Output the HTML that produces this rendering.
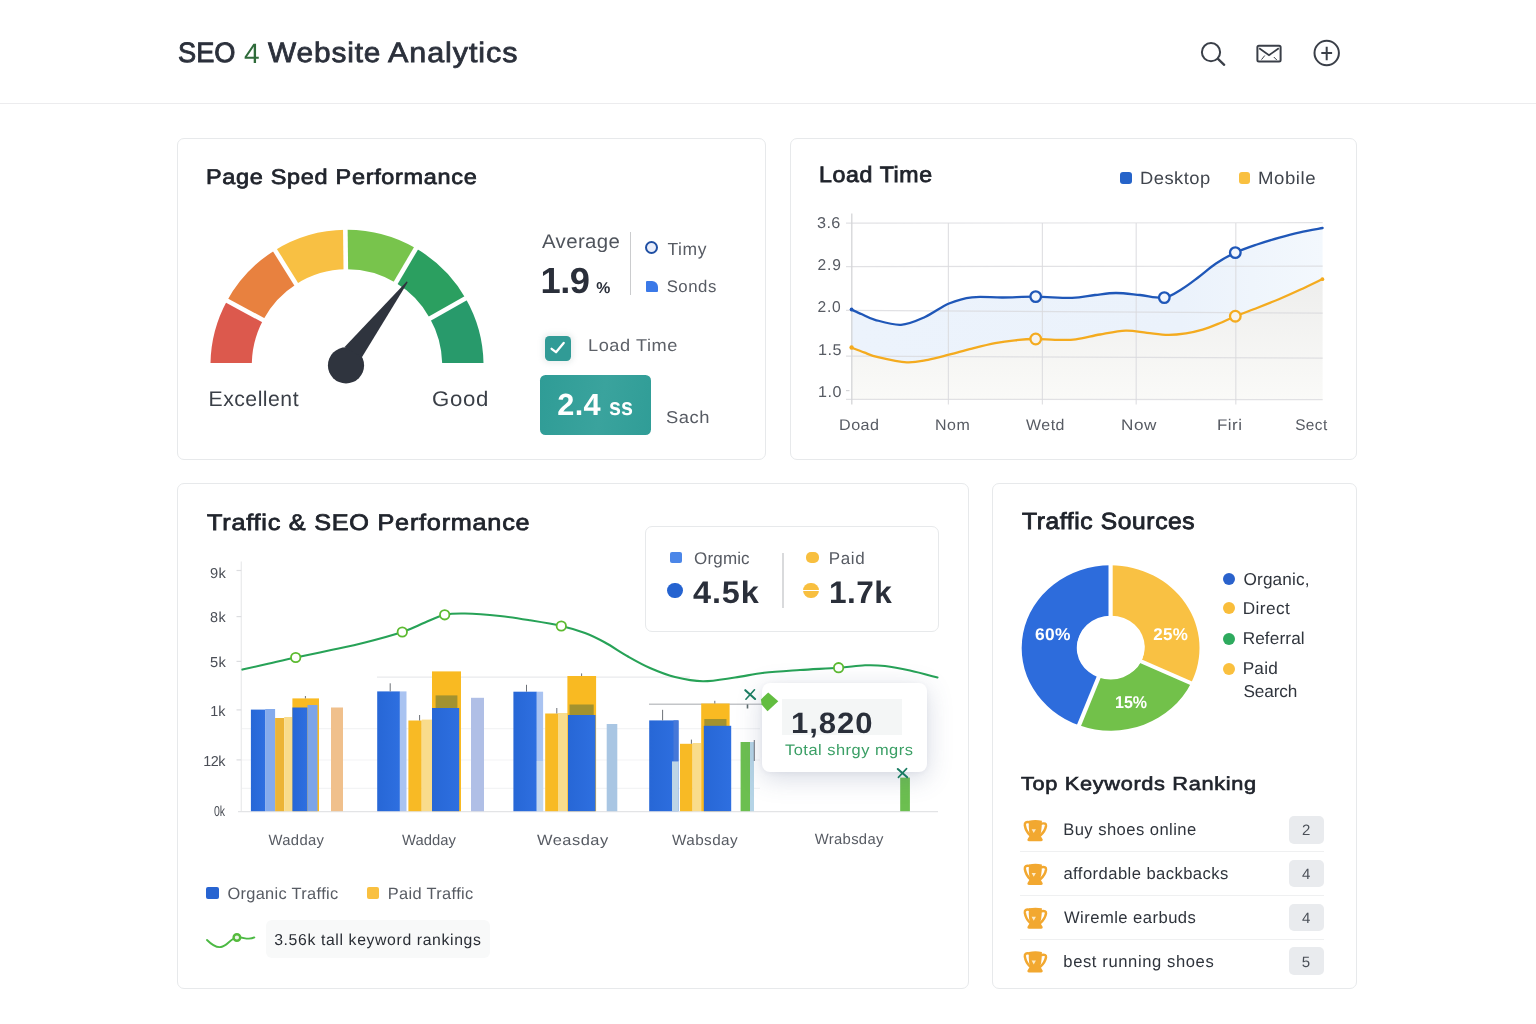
<!DOCTYPE html>
<html lang="en">
<head>
<meta charset="utf-8">
<title>SEO 4 Website Analytics</title>
<style>
*{box-sizing:border-box;margin:0;padding:0}
html,body{width:1536px;height:1024px;background:#fff;overflow:hidden}
body{position:relative;font-family:"Liberation Sans",Arial,sans-serif;color:#20242c;text-rendering:geometricPrecision}
.hdr{position:absolute;left:0;top:0;width:1536px;height:103.6px;background:#fff;border-bottom:1.5px solid #ececee}
.card{position:absolute;background:#fff;border:1.3px solid #e7e9eb;border-radius:7px}
.abs{position:absolute}
.t{position:absolute;white-space:nowrap;line-height:1;transform-origin:0 0}
.t b{font-weight:400;-webkit-text-stroke:0.9px currentColor}
svg.g{position:absolute;left:0;top:0;width:1536px;height:1024px;overflow:visible}
.sq{position:absolute;border-radius:3px}
.dot{position:absolute;border-radius:50%}
.badge{position:absolute;left:1289.3px;width:34.4px;height:27.6px;background:#e9ebee;border-radius:5px}
.row-div{position:absolute;left:1020px;width:304px;height:1.4px;background:#eff0f1}
</style>
</head>
<body>
<header class="hdr"></header>
<section class="card" style="left:177px;top:138px;width:589px;height:321.5px"></section>
<section class="card" style="left:789.8px;top:138px;width:567.4px;height:321.5px"></section>
<section class="card" style="left:177px;top:483px;width:792px;height:506px"></section>
<section class="card" style="left:992px;top:483px;width:365.2px;height:506px"></section>
<div class="abs" style="left:629.5px;top:232.2px;width:1.6px;height:63.3px;background:#cbccce"></div>
<div class="dot" style="left:645px;top:240.7px;width:13.2px;height:13.2px;border:2.1px solid #1f4fa3;background:#e9eefb"></div>
<div class="abs" style="left:645.8px;top:280.6px;width:12.5px;height:11px;background:#3b79e8;border-radius:1px 6px 1px 1px"></div>
<div class="abs" style="left:545.3px;top:335.6px;width:25.5px;height:25.4px;background:#319b96;border-radius:4.5px;box-shadow:0 0 5px 3px rgba(120,150,150,.13)"></div>
<div class="abs" style="left:539.8px;top:375px;width:111.2px;height:59.8px;border-radius:5.5px;background:linear-gradient(100deg,#2f9c96,#3aa39d 55%,#309d97)"></div>
<div class="sq" style="left:1120.2px;top:172px;width:12.1px;height:11.9px;background:#2563c9"></div>
<div class="sq" style="left:1238.7px;top:172px;width:11.8px;height:11.9px;background:#f9c040"></div>
<div class="abs" style="left:645.3px;top:526px;width:294px;height:106px;border:1.3px solid #e7e9eb;border-radius:7px;background:#fff"></div>
<div class="sq" style="left:670.2px;top:551.9px;width:12px;height:11.2px;background:#4b86e8;border-radius:2px"></div>
<div class="dot" style="left:667px;top:582.7px;width:15.8px;height:15.8px;background:#2563d0"></div>
<div class="abs" style="left:782.3px;top:553px;width:1.4px;height:54.7px;background:#d9dadc"></div>
<div class="abs" style="left:805.7px;top:551.5px;width:12.9px;height:11.6px;background:#f8bf3f;border-radius:5px"></div>
<div class="dot" style="left:803.3px;top:582.8px;width:15.6px;height:15.6px;background:linear-gradient(#f8bf3f 0,#f8bf3f 44%,#fff 44%,#fff 56%,#f8bf3f 56%)"></div>
<div class="sq" style="left:206.4px;top:886.8px;width:12.2px;height:12.2px;background:#2764d1;border-radius:2px"></div>
<div class="sq" style="left:366.5px;top:886.8px;width:12.2px;height:12.2px;background:#f9c040;border-radius:2px"></div>
<div class="abs" style="left:265.5px;top:919.9px;width:224.7px;height:38.5px;background:#f8f9f9;border-radius:6px"></div>
<div class="dot" style="left:1222.6px;top:572.9px;width:12.2px;height:12.2px;background:#2a62cc"></div>
<div class="dot" style="left:1222.6px;top:602.3px;width:12.2px;height:12.2px;background:#f9bd3a"></div>
<div class="dot" style="left:1222.6px;top:632.7px;width:12.2px;height:12.2px;background:#2eaa5e"></div>
<div class="dot" style="left:1222.6px;top:662.6px;width:12.2px;height:12.2px;background:#fac03e"></div>
<div class="badge" style="top:816px"></div>
<div class="badge" style="top:859.7px"></div>
<div class="badge" style="top:903.6px"></div>
<div class="badge" style="top:947.3px"></div>
<div class="row-div" style="top:851px"></div>
<div class="row-div" style="top:894.9px"></div>
<div class="row-div" style="top:938.6px"></div>
<svg class="g" viewBox="0 0 1536 1024">
<defs>
<clipPath id="gclip"><rect x="200" y="220" width="300" height="142.9"/></clipPath>
<linearGradient id="gBlueFill" x1="0" y1="0" x2="1" y2="0"><stop offset="0" stop-color="#ecf3fc"/><stop offset=".7" stop-color="#ebf2fb"/><stop offset="1" stop-color="#f3f8fd"/></linearGradient>
<linearGradient id="gGrayFill" x1="0" y1="280" x2="0" y2="400" gradientUnits="userSpaceOnUse"><stop offset="0" stop-color="#eeeeed"/><stop offset="1" stop-color="#fafaf8"/></linearGradient>
<linearGradient id="gBar" x1="0" y1="0" x2="1" y2="0"><stop offset="0" stop-color="#2767d6"/><stop offset="1" stop-color="#2e6fe0"/></linearGradient>
</defs>
<circle cx="1211" cy="52.2" r="9.1" fill="none" stroke="#3a3f48" stroke-width="2"/>
<line x1="1218" y1="58.8" x2="1224.2" y2="64.8" stroke="#3a3f48" stroke-width="2.3" stroke-linecap="round"/>
<rect x="1257.4" y="45.7" width="23.2" height="15.8" rx="1.5" fill="none" stroke="#3a3f48" stroke-width="2"/>
<path d="M1259.2,48.2 L1269,55.2 L1278.8,48.2" fill="none" stroke="#3a3f48" stroke-width="1.8"/>
<path d="M1264.8,55.5 L1261.5,59.6 M1273.8,57 L1276.8,60" fill="none" stroke="#3a3f48" stroke-width="1"/>
<circle cx="1326.7" cy="53" r="12.2" fill="none" stroke="#3a3f48" stroke-width="2"/>
<path d="M1321.3,53 H1332.1 M1326.7,46.7 V60.3" fill="none" stroke="#3a3f48" stroke-width="2"/>
<g clip-path="url(#gclip)">
<path d="M210.58,370.24 A136.5,135.7 0 0 1 226.93,300.96 L263.26,319.74 A95.2,96.2 0 0 0 251.86,368.86 Z" fill="#dc594d"/>
<path d="M226.93,300.96 A136.5,135.7 0 0 1 274.67,250.42 L296.55,283.92 A95.2,96.2 0 0 0 263.26,319.74 Z" fill="#e8813f"/>
<path d="M274.67,250.42 A136.5,135.7 0 0 1 345.33,229.81 L345.84,269.31 A95.2,96.2 0 0 0 296.55,283.92 Z" fill="#f8c043"/>
<path d="M345.33,229.81 A136.5,135.7 0 0 1 416.28,248.58 L395.32,282.61 A95.2,96.2 0 0 0 345.84,269.31 Z" fill="#78c44c"/>
<path d="M416.28,248.58 A136.5,135.7 0 0 1 465.8,298.68 L429.86,318.13 A95.2,96.2 0 0 0 395.32,282.61 Z" fill="#2b9f60"/>
<path d="M465.8,298.68 A136.5,135.7 0 0 1 483.42,370.24 L442.14,368.86 A95.2,96.2 0 0 0 429.86,318.13 Z" fill="#289a6b"/>
<line x1="268.54" y1="323.07" x2="221.65" y2="297.72" stroke="#fff" stroke-width="4.6"/>
<line x1="299.73" y1="289.85" x2="271.49" y2="244.65" stroke="#fff" stroke-width="4.6"/>
<line x1="345.91" y1="276.31" x2="345.26" y2="223.01" stroke="#fff" stroke-width="4.6"/>
<line x1="392.27" y1="288.64" x2="419.32" y2="242.72" stroke="#fff" stroke-width="4.6"/>
<line x1="424.64" y1="321.58" x2="471.03" y2="295.33" stroke="#fff" stroke-width="4.6"/>
</g>
<circle cx="346" cy="365.4" r="18.1" fill="#2f343e"/>
<path d="M406.9,281.2 L407.6,282.4 L361.9,357.2 L344.6,347.0 Z" fill="#2f343e"/>
<path d="M851,309.4 C852.83,310.22 858,312.57 862,314.3 C866,316.03 868.5,318.05 875,319.8 C881.5,321.55 892.67,325.27 901,324.8 C909.33,324.33 917,320.55 925,317 C933,313.45 941.17,306.78 949,303.5 C956.83,300.22 963.03,298.3 972,297.3 C980.97,296.3 992.22,297.6 1002.8,297.5 C1013.38,297.4 1023.97,296.63 1035.5,296.7 C1047.03,296.77 1062.08,298.18 1072,297.9 C1081.92,297.62 1087.67,295.82 1095,295 C1102.33,294.18 1108.5,293 1116,293 C1123.5,293 1131.97,294.23 1140,295 C1148.03,295.77 1157.2,298.6 1164.2,297.6 C1171.2,296.6 1176.25,292.43 1182,289 C1187.75,285.57 1193.03,281.25 1198.7,277 C1204.37,272.75 1209.92,267.55 1216,263.5 C1222.08,259.45 1228.37,255.87 1235.2,252.7 C1242.03,249.53 1249.63,247.02 1257,244.5 C1264.37,241.98 1272.23,239.63 1279.4,237.6 C1286.57,235.57 1292.8,233.9 1300,232.3 C1307.2,230.7 1318.83,228.72 1322.6,228 L1322.6,279  C1318.83,280.8 1307.2,286.47 1300,289.8 C1292.8,293.13 1286.57,295.97 1279.4,299 C1272.23,302.03 1264.37,305.12 1257,308 C1249.63,310.88 1241.53,313.72 1235.2,316.3 C1228.87,318.88 1224.43,321.28 1219,323.5 C1213.57,325.72 1208.1,327.97 1202.6,329.6 C1197.1,331.23 1191.77,332.43 1186,333.3 C1180.23,334.17 1174.5,334.88 1168,334.8 C1161.5,334.72 1154.05,333.5 1147,332.8 C1139.95,332.1 1133.53,330.32 1125.7,330.6 C1117.87,330.88 1108.32,333.03 1100,334.5 C1091.68,335.97 1083.3,338.52 1075.8,339.4 C1068.3,340.28 1061.72,339.87 1055,339.8 C1048.28,339.73 1042.17,338.92 1035.5,339 C1028.83,339.08 1021.73,339.6 1015,340.3 C1008.27,341 1002.27,341.82 995.1,343.2 C987.93,344.58 979.68,346.68 972,348.6 C964.32,350.52 956.33,352.83 949,354.7 C941.67,356.57 935.03,358.52 928,359.8 C920.97,361.08 915.13,362.83 906.8,362.4 C898.47,361.97 885.13,358.87 878,357.2 C870.87,355.53 868.5,354.03 864,352.4 C859.5,350.77 853.17,348.23 851,347.4 Z" fill="url(#gBlueFill)"/>
<path d="M851,347.4 C853.17,348.23 859.5,350.77 864,352.4 C868.5,354.03 870.87,355.53 878,357.2 C885.13,358.87 898.47,361.97 906.8,362.4 C915.13,362.83 920.97,361.08 928,359.8 C935.03,358.52 941.67,356.57 949,354.7 C956.33,352.83 964.32,350.52 972,348.6 C979.68,346.68 987.93,344.58 995.1,343.2 C1002.27,341.82 1008.27,341 1015,340.3 C1021.73,339.6 1028.83,339.08 1035.5,339 C1042.17,338.92 1048.28,339.73 1055,339.8 C1061.72,339.87 1068.3,340.28 1075.8,339.4 C1083.3,338.52 1091.68,335.97 1100,334.5 C1108.32,333.03 1117.87,330.88 1125.7,330.6 C1133.53,330.32 1139.95,332.1 1147,332.8 C1154.05,333.5 1161.5,334.72 1168,334.8 C1174.5,334.88 1180.23,334.17 1186,333.3 C1191.77,332.43 1197.1,331.23 1202.6,329.6 C1208.1,327.97 1213.57,325.72 1219,323.5 C1224.43,321.28 1228.87,318.88 1235.2,316.3 C1241.53,313.72 1249.63,310.88 1257,308 C1264.37,305.12 1272.23,302.03 1279.4,299 C1286.57,295.97 1292.8,293.13 1300,289.8 C1307.2,286.47 1318.83,280.8 1322.6,279 L1322.6,399.3 L851.8,399.3 Z" fill="url(#gGrayFill)"/>
<line x1="846" y1="223.2" x2="1322.7" y2="222.7" stroke="#d9dadd" stroke-opacity=".8" stroke-width="1.2"/>
<line x1="846" y1="266.6" x2="1322.7" y2="266.2" stroke="#d9dadd" stroke-opacity=".8" stroke-width="1.2"/>
<line x1="846" y1="310.4" x2="1322.7" y2="313.2" stroke="#d9dadd" stroke-opacity=".8" stroke-width="1.2"/>
<line x1="846" y1="356.2" x2="1322.7" y2="358.1" stroke="#d9dadd" stroke-opacity=".8" stroke-width="1.2"/>
<line x1="846" y1="399.4" x2="1322.7" y2="399.6" stroke="#d9dadd" stroke-opacity=".8" stroke-width="1.2"/>
<line x1="851.8" y1="213.5" x2="851.8" y2="404.5" stroke="#d4d5d8" stroke-width="1.3"/>
<line x1="948.4" y1="223" x2="948.4" y2="404.5" stroke="#d9dadd" stroke-opacity=".8" stroke-width="1.2"/>
<line x1="1042.4" y1="223" x2="1042.4" y2="404.5" stroke="#d9dadd" stroke-opacity=".8" stroke-width="1.2"/>
<line x1="1136.2" y1="223" x2="1136.2" y2="404.5" stroke="#d9dadd" stroke-opacity=".8" stroke-width="1.2"/>
<line x1="1235.8" y1="223" x2="1235.8" y2="404.5" stroke="#d9dadd" stroke-opacity=".8" stroke-width="1.2"/>
<path d="M851,347.4 C853.17,348.23 859.5,350.77 864,352.4 C868.5,354.03 870.87,355.53 878,357.2 C885.13,358.87 898.47,361.97 906.8,362.4 C915.13,362.83 920.97,361.08 928,359.8 C935.03,358.52 941.67,356.57 949,354.7 C956.33,352.83 964.32,350.52 972,348.6 C979.68,346.68 987.93,344.58 995.1,343.2 C1002.27,341.82 1008.27,341 1015,340.3 C1021.73,339.6 1028.83,339.08 1035.5,339 C1042.17,338.92 1048.28,339.73 1055,339.8 C1061.72,339.87 1068.3,340.28 1075.8,339.4 C1083.3,338.52 1091.68,335.97 1100,334.5 C1108.32,333.03 1117.87,330.88 1125.7,330.6 C1133.53,330.32 1139.95,332.1 1147,332.8 C1154.05,333.5 1161.5,334.72 1168,334.8 C1174.5,334.88 1180.23,334.17 1186,333.3 C1191.77,332.43 1197.1,331.23 1202.6,329.6 C1208.1,327.97 1213.57,325.72 1219,323.5 C1224.43,321.28 1228.87,318.88 1235.2,316.3 C1241.53,313.72 1249.63,310.88 1257,308 C1264.37,305.12 1272.23,302.03 1279.4,299 C1286.57,295.97 1292.8,293.13 1300,289.8 C1307.2,286.47 1318.83,280.8 1322.6,279" fill="none" stroke="#f4ab1f" stroke-width="2.3" stroke-linecap="round"/>
<path d="M851,309.4 C852.83,310.22 858,312.57 862,314.3 C866,316.03 868.5,318.05 875,319.8 C881.5,321.55 892.67,325.27 901,324.8 C909.33,324.33 917,320.55 925,317 C933,313.45 941.17,306.78 949,303.5 C956.83,300.22 963.03,298.3 972,297.3 C980.97,296.3 992.22,297.6 1002.8,297.5 C1013.38,297.4 1023.97,296.63 1035.5,296.7 C1047.03,296.77 1062.08,298.18 1072,297.9 C1081.92,297.62 1087.67,295.82 1095,295 C1102.33,294.18 1108.5,293 1116,293 C1123.5,293 1131.97,294.23 1140,295 C1148.03,295.77 1157.2,298.6 1164.2,297.6 C1171.2,296.6 1176.25,292.43 1182,289 C1187.75,285.57 1193.03,281.25 1198.7,277 C1204.37,272.75 1209.92,267.55 1216,263.5 C1222.08,259.45 1228.37,255.87 1235.2,252.7 C1242.03,249.53 1249.63,247.02 1257,244.5 C1264.37,241.98 1272.23,239.63 1279.4,237.6 C1286.57,235.57 1292.8,233.9 1300,232.3 C1307.2,230.7 1318.83,228.72 1322.6,228" fill="none" stroke="#1f57b8" stroke-width="2.3" stroke-linecap="round"/>
<line x1="846" y1="390.6" x2="849.5" y2="390.6" stroke="#d4d5d8" stroke-width="1.2"/>
<circle cx="851.6" cy="309.5" r="1.9" fill="#1f57b8"/><circle cx="851.6" cy="347.5" r="2.2" fill="#f4ab1f"/><circle cx="1322.4" cy="279.2" r="1.9" fill="#f4ab1f"/>
<circle cx="1035.7" cy="296.6" r="5.3" fill="#f2f6fd" stroke="#1f57b8" stroke-width="2.3"/>
<circle cx="1164.3" cy="297.6" r="5.3" fill="#f2f6fd" stroke="#1f57b8" stroke-width="2.3"/>
<circle cx="1235.3" cy="252.6" r="5.3" fill="#f2f6fd" stroke="#1f57b8" stroke-width="2.3"/>
<circle cx="1035.7" cy="339" r="5.3" fill="#f6f3ee" stroke="#f4ab1f" stroke-width="2.3"/>
<circle cx="1235.3" cy="316.2" r="5.3" fill="#f6f3ee" stroke="#f4ab1f" stroke-width="2.3"/>
<line x1="377" y1="677.2" x2="690" y2="677.2" stroke="#e9eaec" stroke-width="1.2"/>
<line x1="649" y1="704.2" x2="763" y2="704.2" stroke="#c3c5c8" stroke-width="1.4"/>
<line x1="242" y1="728.7" x2="760" y2="728.7" stroke="#f3f4f5" stroke-width="1.2"/>
<line x1="242" y1="760" x2="760" y2="760" stroke="#f3f4f5" stroke-width="1.2"/>
<line x1="242" y1="788.3" x2="760" y2="788.3" stroke="#f3f4f5" stroke-width="1.2"/>
<line x1="241.3" y1="561.4" x2="241.3" y2="811.5" stroke="#eaebed" stroke-width="1.3"/>
<line x1="236.5" y1="570.5" x2="241.3" y2="570.5" stroke="#dcdde0" stroke-width="1.2"/>
<line x1="236.5" y1="616.6" x2="241.3" y2="616.6" stroke="#dcdde0" stroke-width="1.2"/>
<line x1="236.5" y1="661.4" x2="241.3" y2="661.4" stroke="#dcdde0" stroke-width="1.2"/>
<line x1="236.5" y1="709.9" x2="241.3" y2="709.9" stroke="#dcdde0" stroke-width="1.2"/>
<line x1="236.5" y1="759.9" x2="241.3" y2="759.9" stroke="#dcdde0" stroke-width="1.2"/>
<line x1="238" y1="811.6" x2="938" y2="811.6" stroke="#e3e4e6" stroke-width="1.3"/>
<rect x="250.9" y="709.6" width="14.2" height="101.6" fill="url(#gBar)"/>
<rect x="265.1" y="709" width="10" height="102.2" fill="#85abec"/>
<rect x="275.1" y="718" width="9.1" height="93.2" fill="#ecb436"/>
<rect x="284.2" y="717" width="8.2" height="94.2" fill="#f9dc8c"/>
<rect x="292.4" y="698.4" width="26.6" height="112.8" fill="#f9ba22"/>
<rect x="292.4" y="707.5" width="15.1" height="103.7" fill="url(#gBar)"/>
<rect x="307.5" y="705" width="10" height="106.2" fill="#7ca4e8"/>
<rect x="331" y="707.5" width="12" height="103.7" fill="#f0c08c"/>
<rect x="377.2" y="691.4" width="22.7" height="119.8" fill="url(#gBar)"/>
<rect x="399.9" y="691.4" width="6.6" height="119.8" fill="#a9c3f1"/>
<rect x="408.4" y="720.5" width="13.3" height="90.7" fill="#f8ba25"/>
<rect x="421.7" y="719.6" width="10.3" height="91.6" fill="#f9dc8c"/>
<rect x="432" y="671.4" width="29" height="139.8" fill="#f9ba22"/>
<rect x="435.6" y="695.4" width="21.8" height="13.1" fill="#a3922f"/>
<rect x="432" y="708" width="27.2" height="103.2" fill="url(#gBar)"/>
<rect x="471" y="697.8" width="13" height="113.4" fill="#b0bfe6"/>
<rect x="513.4" y="691.7" width="23.4" height="119.5" fill="url(#gBar)"/>
<rect x="536.8" y="691.7" width="6.3" height="119.5" fill="#a9c3f1"/>
<rect x="536.8" y="761" width="6.3" height="50.2" fill="#c3d7ee"/>
<rect x="545.2" y="713.5" width="12.8" height="97.7" fill="#f8ba25"/>
<rect x="558" y="713" width="10" height="98.2" fill="#f9dc8c"/>
<rect x="567.4" y="676" width="28.7" height="135.2" fill="#f9ba22"/>
<rect x="569.5" y="704.5" width="24.2" height="11" fill="#a3922f"/>
<rect x="568" y="715" width="27.5" height="96.2" fill="url(#gBar)"/>
<rect x="606.7" y="724" width="10.6" height="87.2" fill="#a9c6e3"/>
<rect x="649.2" y="720.4" width="29.3" height="90.8" fill="url(#gBar)"/>
<rect x="673.5" y="720.4" width="5" height="41" fill="#4678d8"/>
<rect x="672" y="761.4" width="6.5" height="49.8" fill="#bdd5e6"/>
<rect x="680" y="743.8" width="12.6" height="67.4" fill="#f8ba25"/>
<rect x="692.6" y="743" width="8.6" height="68.2" fill="#f9dc8c"/>
<rect x="701.2" y="703.5" width="28.4" height="107.7" fill="#f9ba22"/>
<rect x="704.3" y="719" width="22.2" height="7.3" fill="#a3922f"/>
<rect x="703.8" y="725.8" width="27.4" height="85.4" fill="url(#gBar)"/>
<rect x="740.6" y="742" width="9.4" height="69.2" fill="#6cbf50"/>
<rect x="750" y="742" width="4" height="69.2" fill="#b5d4e6"/>
<rect x="900.2" y="777.6" width="9.7" height="33.6" fill="#6cbf50"/>
<line x1="390.2" y1="683.3" x2="390.2" y2="691.4" stroke="#6d7178" stroke-width="1"/>
<line x1="526.5" y1="684.8" x2="526.5" y2="691.7" stroke="#6d7178" stroke-width="1"/>
<line x1="662.6" y1="709.8" x2="662.6" y2="720.4" stroke="#6d7178" stroke-width="1"/>
<line x1="305.4" y1="696" x2="305.4" y2="698.4" stroke="#6d7178" stroke-width="1"/>
<line x1="419.6" y1="715" x2="419.6" y2="720.5" stroke="#6d7178" stroke-width="1"/>
<line x1="556.8" y1="708" x2="556.8" y2="713.5" stroke="#6d7178" stroke-width="1"/>
<line x1="581.6" y1="673.4" x2="581.6" y2="676" stroke="#6d7178" stroke-width="1"/>
<line x1="714.8" y1="700.8" x2="714.8" y2="703.5" stroke="#6d7178" stroke-width="1"/>
<line x1="691.4" y1="739.6" x2="691.4" y2="743.8" stroke="#6d7178" stroke-width="1"/>
<line x1="754.3" y1="740" x2="754.3" y2="761" stroke="#6d7178" stroke-width="1"/>
<path d="M242.4,669.6 C246.67,668.63 259.12,665.82 268,663.8 C276.88,661.78 285.37,659.75 295.7,657.5 C306.03,655.25 318.45,652.8 330,650.3 C341.55,647.8 352.95,645.55 365,642.5 C377.05,639.45 392.3,635.33 402.3,632 C412.3,628.67 417.93,625.37 425,622.5 C432.07,619.63 438.03,616.3 444.7,614.8 C451.37,613.3 455.78,613.3 465,613.5 C474.22,613.7 489.17,614.87 500,616 C510.83,617.13 519.78,618.63 530,620.3 C540.22,621.97 552.13,623.88 561.3,626 C570.47,628.12 577.72,630.25 585,633 C592.28,635.75 597.83,638.58 605,642.5 C612.17,646.42 620.5,652.25 628,656.5 C635.5,660.75 642.17,664.58 650,668 C657.83,671.42 666.17,674.8 675,677 C683.83,679.2 693,681.12 703,681.2 C713,681.28 724.83,678.9 735,677.5 C745.17,676.1 753.17,674.05 764,672.8 C774.83,671.55 787.57,670.85 800,670 C812.43,669.15 827.77,668.48 838.6,667.7 C849.43,666.92 857.27,665.58 865,665.3 C872.73,665.02 877.5,665.13 885,666 C892.5,666.87 901.25,668.58 910,670.5 C918.75,672.42 932.92,676.33 937.5,677.5" fill="none" stroke="#27a257" stroke-width="2.1" stroke-linecap="round"/>
<circle cx="295.7" cy="657.5" r="4.7" fill="#fff" stroke="#5cba30" stroke-width="1.8"/>
<circle cx="402.3" cy="632" r="4.7" fill="#fff" stroke="#5cba30" stroke-width="1.8"/>
<circle cx="444.7" cy="614.8" r="4.7" fill="#fff" stroke="#5cba30" stroke-width="1.8"/>
<circle cx="561.3" cy="626" r="4.7" fill="#fff" stroke="#5cba30" stroke-width="1.8"/>
<circle cx="838.6" cy="667.7" r="4.7" fill="#fff" stroke="#5cba30" stroke-width="1.8"/>
<g transform="translate(1110.6,648) scale(1,0.93)">
<path d="M0,-88.9 A88.9,88.9 0 0 1 80.44,37.85 L30.58,14.39 A33.8,33.8 0 0 0 0,-33.8 Z" fill="#f9c143"/>
<path d="M80.44,37.85 A88.9,88.9 0 0 1 -31.57,83.11 L-12,31.6 A33.8,33.8 0 0 0 30.58,14.39 Z" fill="#72c14a"/>
<path d="M-31.57,83.11 A88.9,88.9 0 0 1 -0,-88.9 L-0,-33.8 A33.8,33.8 0 0 0 -12,31.6 Z" fill="#2d6cdc"/>
<line x1="0" y1="0" x2="0" y2="-92.9" stroke="#fff" stroke-width="4.2"/>
<line x1="0" y1="0" x2="84.06" y2="39.55" stroke="#fff" stroke-width="4.2"/>
<line x1="0" y1="0" x2="-32.99" y2="86.85" stroke="#fff" stroke-width="4.2"/>
<circle cx="0.3" cy="-1" r="33.8" fill="#fff"/>
</g>
<g transform="translate(1023.35,819.8)"><path d="M5.53,0.89 Q12.04,-0.35 18.55,0.89 L18.36,6.68 Q18.03,12.54 16.73,15.28 L17.77,16.91 L19.4,19.71 Q19.59,21.4 17.9,21.4 L5.53,21.4 Q3.71,21.4 4.03,19.71 L5.66,16.91 L6.7,15.28 Q5.53,12.54 5.4,6.68 Z" fill="#f2a830"/><path d="M5.92,2.39 Q1.1,1.35 1.49,5.51 Q2.41,11.37 6.57,15.28" fill="none" stroke="#f2a830" stroke-width="2.5" stroke-linecap="round"/><path d="M18.29,3.82 Q22.98,2.78 22.65,6.16 Q21.74,11.37 17.12,15.47" fill="none" stroke="#f2a830" stroke-width="2.5" stroke-linecap="round"/><path d="M8.26,9.42 L12.56,9.42 L10.41,13.32 Z" fill="#fcebc8"/></g>
<g transform="translate(1023.35,863.5)"><path d="M5.53,0.89 Q12.04,-0.35 18.55,0.89 L18.36,6.68 Q18.03,12.54 16.73,15.28 L17.77,16.91 L19.4,19.71 Q19.59,21.4 17.9,21.4 L5.53,21.4 Q3.71,21.4 4.03,19.71 L5.66,16.91 L6.7,15.28 Q5.53,12.54 5.4,6.68 Z" fill="#f2a830"/><path d="M5.92,2.39 Q1.1,1.35 1.49,5.51 Q2.41,11.37 6.57,15.28" fill="none" stroke="#f2a830" stroke-width="2.5" stroke-linecap="round"/><path d="M18.29,3.82 Q22.98,2.78 22.65,6.16 Q21.74,11.37 17.12,15.47" fill="none" stroke="#f2a830" stroke-width="2.5" stroke-linecap="round"/><path d="M8.26,9.42 L12.56,9.42 L10.41,13.32 Z" fill="#fcebc8"/></g>
<g transform="translate(1023.35,907.4)"><path d="M5.53,0.89 Q12.04,-0.35 18.55,0.89 L18.36,6.68 Q18.03,12.54 16.73,15.28 L17.77,16.91 L19.4,19.71 Q19.59,21.4 17.9,21.4 L5.53,21.4 Q3.71,21.4 4.03,19.71 L5.66,16.91 L6.7,15.28 Q5.53,12.54 5.4,6.68 Z" fill="#f2a830"/><path d="M5.92,2.39 Q1.1,1.35 1.49,5.51 Q2.41,11.37 6.57,15.28" fill="none" stroke="#f2a830" stroke-width="2.5" stroke-linecap="round"/><path d="M18.29,3.82 Q22.98,2.78 22.65,6.16 Q21.74,11.37 17.12,15.47" fill="none" stroke="#f2a830" stroke-width="2.5" stroke-linecap="round"/><path d="M8.26,9.42 L12.56,9.42 L10.41,13.32 Z" fill="#fcebc8"/></g>
<g transform="translate(1023.35,951.1)"><path d="M5.53,0.89 Q12.04,-0.35 18.55,0.89 L18.36,6.68 Q18.03,12.54 16.73,15.28 L17.77,16.91 L19.4,19.71 Q19.59,21.4 17.9,21.4 L5.53,21.4 Q3.71,21.4 4.03,19.71 L5.66,16.91 L6.7,15.28 Q5.53,12.54 5.4,6.68 Z" fill="#f2a830"/><path d="M5.92,2.39 Q1.1,1.35 1.49,5.51 Q2.41,11.37 6.57,15.28" fill="none" stroke="#f2a830" stroke-width="2.5" stroke-linecap="round"/><path d="M18.29,3.82 Q22.98,2.78 22.65,6.16 Q21.74,11.37 17.12,15.47" fill="none" stroke="#f2a830" stroke-width="2.5" stroke-linecap="round"/><path d="M8.26,9.42 L12.56,9.42 L10.41,13.32 Z" fill="#fcebc8"/></g>
<path d="M551.6,348.8 L556,352.2 L563.7,343" fill="none" stroke="#fff" stroke-width="2.3" stroke-linecap="round" stroke-linejoin="round"/>
<path d="M207,940 C211,944 216,948 221,947 C227,946 230,939 236.8,937.4 C243,936.5 248,941 254.3,937.4" fill="none" stroke="#4cb944" stroke-width="1.9" stroke-linecap="round"/>
<circle cx="236.9" cy="937.5" r="3.3" fill="#eef7ea" stroke="#55bb3d" stroke-width="2.4"/>
</svg>
<div class="abs" style="left:762.4px;top:683px;width:164.6px;height:89.4px;background:#fff;border-radius:8px;box-shadow:0 6px 26px rgba(70,85,130,.22),0 1px 5px rgba(60,70,100,.06)"></div><div class="abs" style="left:782px;top:699px;width:120px;height:36px;background:#f4f6f6"></div>
<svg class="g" viewBox="0 0 1536 1024">
<path d="M768.2,692.4 L778.3,701.3 L767.5,711.3 L761.6,704.6 L760.9,699.4 Z" fill="#62bd40"/>
<path d="M745.3,690.2 L755.1,699" stroke="#1b7c62" stroke-width="2.1" stroke-linecap="round" fill="none"/>
<path d="M754.5,689.8 L745.9,699.2" stroke="#1b7c62" stroke-width="1.6" stroke-linecap="round" fill="none"/>
<path d="M897.8,769 L907.2,777.2" stroke="#1b7c62" stroke-width="2.1" stroke-linecap="round" fill="none"/>
<path d="M906.6,768.6 L898.4,777.4" stroke="#1b7c62" stroke-width="1.6" stroke-linecap="round" fill="none"/>
<line x1="747.5" y1="704.4" x2="747.5" y2="708.5" stroke="#5c6a6c" stroke-width="1.6"/>
</svg>
<span class="t" style="left:178.3px;top:39.34px;font-size:28px;font-weight:400;color:#2b303b;-webkit-text-stroke:0.86px currentColor;transform:scaleX(0.973)">SEO</span>
<span class="t" style="left:243.89px;top:40.3px;font-size:28px;font-weight:400;color:#2f6b3a">4</span>
<span class="t" style="left:268.49px;top:39.34px;font-size:28px;font-weight:400;color:#2b303b;-webkit-text-stroke:0.79px currentColor;letter-spacing:0.84px;transform:scaleX(1.064)">Website</span>
<span class="t" style="left:387.92px;top:39.34px;font-size:28px;font-weight:400;color:#2b303b;-webkit-text-stroke:0.77px currentColor;letter-spacing:0.84px;transform:scaleX(1.090)">Analytics</span>
<span class="t" style="left:205.8px;top:166.89px;font-size:21.2px;font-weight:400;color:#20242c;-webkit-text-stroke:0.73px currentColor;letter-spacing:0.64px;transform:scaleX(1.106)">Page Sped Performance</span>
<span class="t" style="left:541.72px;top:232.64px;font-size:19.8px;font-weight:400;color:#4f545c;letter-spacing:0.37px;transform:scaleX(1.030)">Average</span>
<span class="t" style="left:540.39px;top:262.97px;font-size:36.3px;font-weight:700;color:#2a2f3a;letter-spacing:-0.41px">1.9</span>
<span class="t" style="left:596.37px;top:281.33px;font-size:15.8px;font-weight:700;color:#2a2f3a">%</span>
<span class="t" style="left:667.41px;top:241.39px;font-size:17.5px;font-weight:400;color:#575b63;letter-spacing:0.61px">Timy</span>
<span class="t" style="left:666.67px;top:279.08px;font-size:16.8px;font-weight:400;color:#575b63;letter-spacing:0.51px">Sonds</span>
<span class="t" style="left:588.38px;top:336.61px;font-size:17px;font-weight:400;color:#5d6168;letter-spacing:0.51px;transform:scaleX(1.070)">Load Time</span>
<span class="t" style="left:557.36px;top:390.01px;font-size:30.7px;font-weight:700;color:#ffffff;letter-spacing:0.33px">2.4</span>
<span class="t" style="left:608.67px;top:395.68px;font-size:24px;font-weight:700;color:#ffffff;transform:scaleX(0.897)">ss</span>
<span class="t" style="left:665.91px;top:409.24px;font-size:17.2px;font-weight:400;color:#575b63;letter-spacing:0.52px;transform:scaleX(1.068)">Sach</span>
<span class="t" style="left:208.49px;top:388.65px;font-size:21.2px;font-weight:400;color:#3a3f47;letter-spacing:0.51px">Excellent</span>
<span class="t" style="left:431.95px;top:388.65px;font-size:21.2px;font-weight:400;color:#3a3f47;letter-spacing:0.64px;transform:scaleX(1.048)">Good</span>
<span class="t" style="left:818.62px;top:163.65px;font-size:22.2px;font-weight:400;color:#20242c;-webkit-text-stroke:0.81px currentColor;letter-spacing:0.59px;transform:scaleX(1.044)">Load Time</span>
<span class="t" style="left:1139.98px;top:170.22px;font-size:17.7px;font-weight:400;color:#40454d;letter-spacing:0.46px;transform:scaleX(1.039)">Desktop</span>
<span class="t" style="left:1258.42px;top:170.22px;font-size:17.7px;font-weight:400;color:#40454d;letter-spacing:0.53px;transform:scaleX(1.052)">Mobile</span>
<span class="t" style="left:817.14px;top:216.49px;font-size:15.6px;font-weight:400;color:#575b63;letter-spacing:0.36px;transform:scaleX(1.039)">3.6</span>
<span class="t" style="left:817.59px;top:258.49px;font-size:15.6px;font-weight:400;color:#575b63;letter-spacing:0.79px">2.9</span>
<span class="t" style="left:817.59px;top:299.99px;font-size:15.6px;font-weight:400;color:#575b63;letter-spacing:0.69px">2.0</span>
<span class="t" style="left:817.72px;top:342.59px;font-size:15.6px;font-weight:400;color:#575b63;letter-spacing:0.47px;transform:scaleX(1.040)">1.5</span>
<span class="t" style="left:817.73px;top:384.99px;font-size:15.6px;font-weight:400;color:#575b63;letter-spacing:0.47px;transform:scaleX(1.033)">1.0</span>
<span class="t" style="left:838.98px;top:417.96px;font-size:15.4px;font-weight:400;color:#575b63;letter-spacing:0.46px;transform:scaleX(1.049)">Doad</span>
<span class="t" style="left:935.24px;top:417.96px;font-size:15.4px;font-weight:400;color:#575b63;letter-spacing:0.46px;transform:scaleX(1.038)">Nom</span>
<span class="t" style="left:1025.84px;top:417.96px;font-size:15.4px;font-weight:400;color:#575b63;letter-spacing:0.46px;transform:scaleX(1.038)">Wetd</span>
<span class="t" style="left:1120.97px;top:417.96px;font-size:15.4px;font-weight:400;color:#575b63;letter-spacing:0.46px;transform:scaleX(1.113)">Now</span>
<span class="t" style="left:1217.28px;top:417.96px;font-size:15.4px;font-weight:400;color:#575b63;letter-spacing:0.46px;transform:scaleX(1.100)">Firi</span>
<span class="t" style="left:1295.18px;top:417.96px;font-size:15.4px;font-weight:400;color:#575b63;letter-spacing:0.41px">Sect</span>
<span class="t" style="left:207.17px;top:512.01px;font-size:22.6px;font-weight:400;color:#20242c;-webkit-text-stroke:0.77px currentColor;letter-spacing:0.68px;transform:scaleX(1.117)">Traffic &amp; SEO Performance</span>
<span class="t" style="left:209.78px;top:567.31px;font-size:14.4px;font-weight:400;color:#4a4e56;letter-spacing:0.36px;transform:scaleX(1.020)">9k</span>
<span class="t" style="left:209.99px;top:611.11px;font-size:14.4px;font-weight:400;color:#4a4e56;letter-spacing:0.49px">8k</span>
<span class="t" style="left:209.61px;top:656.01px;font-size:14.4px;font-weight:400;color:#4a4e56;letter-spacing:0.43px;transform:scaleX(1.019)">5k</span>
<span class="t" style="left:210.34px;top:704.81px;font-size:14.4px;font-weight:400;color:#4a4e56;letter-spacing:0.02px">1k</span>
<span class="t" style="left:203.34px;top:755.41px;font-size:14.4px;font-weight:400;color:#4a4e56;letter-spacing:-0.49px">12k</span>
<span class="t" style="left:213.64px;top:805.31px;font-size:14.4px;font-weight:400;color:#4a4e56;transform:scaleX(0.731)">0k</span>
<span class="t" style="left:268.59px;top:833.67px;font-size:14.8px;font-weight:400;color:#575b63;letter-spacing:0.32px">Wadday</span>
<span class="t" style="left:402.05px;top:833.67px;font-size:14.8px;font-weight:400;color:#575b63;letter-spacing:0.03px">Wadday</span>
<span class="t" style="left:536.71px;top:833.67px;font-size:14.8px;font-weight:400;color:#575b63;letter-spacing:0.44px;transform:scaleX(1.110)">Weasday</span>
<span class="t" style="left:671.57px;top:834.47px;font-size:14.8px;font-weight:400;color:#575b63;letter-spacing:0.4px;transform:scaleX(1.033)">Wabsday</span>
<span class="t" style="left:814.79px;top:832.87px;font-size:14.8px;font-weight:400;color:#575b63;letter-spacing:0.32px">Wrabsday</span>
<span class="t" style="left:694.1px;top:549.71px;font-size:17px;font-weight:400;color:#575b63;letter-spacing:0.15px">Orgmic</span>
<span class="t" style="left:828.78px;top:549.71px;font-size:17px;font-weight:400;color:#575b63;letter-spacing:0.61px">Paid</span>
<span class="t" style="left:693.27px;top:576.99px;font-size:31.2px;font-weight:700;color:#2a2f3a;letter-spacing:0.89px;transform:scaleX(1.039)">4.5k</span>
<span class="t" style="left:829.48px;top:576.99px;font-size:31.2px;font-weight:700;color:#2a2f3a;letter-spacing:0.43px;transform:scaleX(1.013)">1.7k</span>
<span class="t" style="left:791px;top:709px;font-size:29.3px;font-weight:700;color:#2a2f3a;letter-spacing:0.88px;transform:scaleX(1.061)">1,820</span>
<span class="t" style="left:785.07px;top:742.85px;font-size:15.3px;font-weight:400;color:#3a9f65;letter-spacing:0.46px;transform:scaleX(1.074)">Total shrgy mgrs</span>
<span class="t" style="left:227.42px;top:886.12px;font-size:16.4px;font-weight:400;color:#575b63;letter-spacing:0.32px">Organic Traffic</span>
<span class="t" style="left:387.82px;top:886.12px;font-size:16.4px;font-weight:400;color:#575b63;letter-spacing:0.34px">Paid Traffic</span>
<span class="t" style="left:274.19px;top:933.03px;font-size:15.8px;font-weight:400;color:#2a2e35;letter-spacing:0.62px">3.56k tall keyword rankings</span>
<span class="t" style="left:1022.22px;top:510.13px;font-size:23.4px;font-weight:400;color:#20242c;-webkit-text-stroke:0.85px currentColor;letter-spacing:0.59px;transform:scaleX(1.051)">Traffic Sources</span>
<span class="t" style="left:1035px;top:626.41px;font-size:17px;font-weight:700;color:#ffffff;letter-spacing:0.39px;transform:scaleX(1.022)">60%</span>
<span class="t" style="left:1153.19px;top:626.41px;font-size:17px;font-weight:700;color:#ffffff;letter-spacing:0.38px">25%</span>
<span class="t" style="left:1114.86px;top:693.81px;font-size:17px;font-weight:700;color:#ffffff;transform:scaleX(0.943)">15%</span>
<span class="t" style="left:1243.52px;top:570.64px;font-size:17.2px;font-weight:400;color:#30353d;letter-spacing:0.14px">Organic,</span>
<span class="t" style="left:1242.66px;top:600.44px;font-size:17.2px;font-weight:400;color:#30353d;letter-spacing:0.46px">Direct</span>
<span class="t" style="left:1242.66px;top:629.74px;font-size:17.2px;font-weight:400;color:#30353d;letter-spacing:0.12px">Referral</span>
<span class="t" style="left:1242.66px;top:659.54px;font-size:17.2px;font-weight:400;color:#30353d;letter-spacing:0.25px">Paid</span>
<span class="t" style="left:1243.41px;top:683.04px;font-size:17.2px;font-weight:400;color:#30353d;letter-spacing:-0.12px">Search</span>
<span class="t" style="left:1021.13px;top:774.83px;font-size:18.8px;font-weight:400;color:#20242c;-webkit-text-stroke:0.62px currentColor;letter-spacing:0.56px;transform:scaleX(1.160)">Top Keywords Ranking</span>
<span class="t" style="left:1063.15px;top:822.35px;font-size:16.6px;font-weight:400;color:#2f343c;letter-spacing:0.45px">Buy shoes online</span>
<span class="t" style="left:1063.45px;top:866.35px;font-size:16.6px;font-weight:400;color:#2f343c;letter-spacing:0.44px">affordable backbacks</span>
<span class="t" style="left:1063.98px;top:910.35px;font-size:16.6px;font-weight:400;color:#2f343c;letter-spacing:0.46px">Wiremle earbuds</span>
<span class="t" style="left:1063.3px;top:954.05px;font-size:16.6px;font-weight:400;color:#2f343c;letter-spacing:0.6px">best running shoes</span>
<span class="t" style="left:1301.96px;top:822.7px;font-size:15px;font-weight:400;color:#4a4f57">2</span>
<span class="t" style="left:1301.92px;top:866.7px;font-size:15px;font-weight:400;color:#4a4f57">4</span>
<span class="t" style="left:1301.92px;top:910.7px;font-size:15px;font-weight:400;color:#4a4f57">4</span>
<span class="t" style="left:1301.73px;top:955.4px;font-size:15px;font-weight:400;color:#4a4f57">5</span>
</body>
</html>
